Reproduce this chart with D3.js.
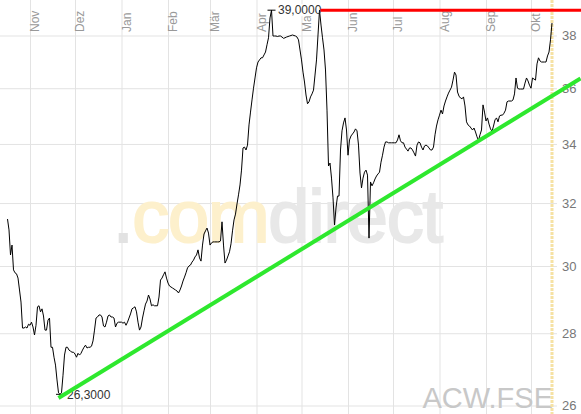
<!DOCTYPE html>
<html>

<head>
  <title>ACW.FSE</title>
  <script src="https://d3js.org/d3.v7.min.js"></script>
  <style type="text/css">
    body {
      margin: 0;
      background: #fff;
    }

    svg text {
      font-family: "Liberation Sans", Arial, Helvetica, sans-serif;
    }
  </style>
</head>

<body>
  <div id="chart"></div>
  <script>
    // daily closes, one per calendar day starting at firstDay
    var firstDay = "2016-10-17";
    var closes = [
      31.48, 31.13, 30.34, 30.65, 29.88, 29.79, 29.76, 29.63, 29.27, 28.91,
      28.15, 28.15, 28.18, 28.15, 28.26, 28.23, 28.32, 28.18, 27.95, 28.23,
      28.77, 28.80, 28.62, 28.71, 28.50, 28.09, 28.09, 28.38, 28.44, 27.60,
      27.60, 27.32, 27.10, 26.69, 26.34, 26.30, 26.34, 26.82, 27.38, 27.60,
      27.60, 27.52, 27.49, 27.46, 27.46, 27.41, 27.32, 27.43, 27.38, 27.43,
      27.52, 27.60, 27.66, 27.58, 27.60, 27.60, 27.63, 27.78, 28.09, 28.44,
      28.47, 28.53, 28.53, 28.47, 28.21, 28.18, 28.32, 28.50, 28.53, 28.47,
      28.47, 28.44, 28.18, 28.29, 28.32, 28.32, 28.32, 28.29, 28.32, 28.23,
      28.32, 28.44, 28.56, 28.71, 28.74, 28.77, 28.62, 28.32, 28.09, 28.18,
      28.44, 28.65, 28.85, 28.94, 29.12, 29.00, 28.80, 28.83, 28.80, 28.80,
      28.80, 29.06, 29.57, 29.63, 29.73, 29.82, 29.63, 29.48, 29.39, 29.36,
      29.33, 29.30, 29.27, 29.24, 29.18, 29.27, 29.39, 29.54, 29.66, 29.79,
      29.94, 30.00, 30.03, 30.12, 30.18, 30.28, 30.34, 30.50, 30.25, 30.15,
      30.65, 31.00, 31.10, 31.19, 31.03, 30.65, 30.72, 30.75, 30.75, 30.75,
      30.75, 30.75, 30.78, 31.39, 30.65, 30.09, 30.18, 30.31, 30.44, 30.69,
      31.10, 31.45, 31.64, 31.97, 32.27, 32.60, 33.10, 33.86, 33.89, 33.79,
      33.96, 34.67, 35.13, 35.57, 36.00, 36.38, 36.76, 36.98, 37.06, 37.14,
      37.14, 37.25, 37.36, 37.64, 37.91, 38.69, 39.00, 37.98, 37.98, 37.98,
      37.96, 37.98, 37.98, 37.94, 37.89, 37.91, 37.94, 37.96, 37.98, 38.00,
      38.02, 38.00, 37.98, 37.94, 37.83, 37.44, 37.06, 36.60, 36.23, 35.75,
      35.43, 35.50, 35.68, 35.79, 35.93, 36.49, 37.06, 38.02, 39.00, 38.41,
      37.91, 37.44, 36.68, 35.20, 33.24, 33.34, 32.83, 32.17, 31.29, 31.84,
      32.23, 32.23, 33.79, 34.46, 34.74, 34.92, 34.49, 33.61, 34.14, 34.28,
      34.35, 34.42, 34.53, 34.46, 33.96, 33.00, 32.50, 32.83, 33.03, 33.10,
      32.93, 30.87, 32.70, 32.57, 32.67, 32.80, 32.90, 32.97, 33.03, 33.37,
      33.61, 33.89, 34.07, 34.07, 34.04, 34.04, 34.04, 34.04, 34.04, 34.04,
      34.14, 34.32, 34.11, 34.04, 34.04, 33.89, 33.82, 33.75, 33.86, 33.86,
      33.79, 33.69, 33.58, 33.96, 34.07, 34.04, 33.89, 33.79, 33.93, 33.96,
      33.93, 33.86, 33.79, 33.79, 33.89, 34.32, 34.63, 34.85, 35.02, 35.20,
      35.06, 35.35, 35.53, 35.68, 35.82, 35.93, 36.04, 36.30, 36.60, 36.49,
      35.86, 35.71, 35.64, 35.61, 35.68, 35.35, 34.78, 34.67, 34.63, 34.56,
      34.49, 34.56, 34.42, 34.25, 34.12, 34.32, 34.49, 35.39, 35.13, 34.81,
      34.92, 34.70, 34.53, 34.44, 34.63, 34.85, 34.92, 34.78, 34.99, 35.02,
      35.02, 35.09, 35.20, 35.50, 35.53, 35.53, 35.53, 35.57, 35.79, 36.38,
      36.00, 35.97, 35.97, 35.97, 35.97, 36.19, 36.38, 36.27, 36.11, 36.00,
      36.38, 36.34, 36.30, 36.91, 37.14, 37.02, 36.98, 36.98, 36.98, 36.98,
      37.21, 37.36, 37.83, 38.49
    ];

    var xDomain = ["2016-10-12", "2017-10-18"];
    var monthTicks = ["2016-11-01", "2016-12-01", "2017-01-01", "2017-02-01", "2017-03-01", "2017-04-01",
      "2017-05-01", "2017-06-01", "2017-07-01", "2017-08-01", "2017-09-01", "2017-10-01"];
    var monthLabels = ["Nov", "Dez", "Jan", "Feb", "Mär", "Apr", "Mai", "Jun", "Jul", "Aug", "Sep", "Okt"];
    var yTicks = [26, 28, 30, 32, 34, 36, 38];

    // support line (green) and resistance (red)
    var trendDates = ["2016-11-20", "2017-11-03"];
    var trendValues = [26.2, 36.36];
    var symbol = "ACW.FSE";

    var width = 581;
    var height = 414;
    var plotRight = 557;

    var parseDate = d3.timeParse("%Y-%m-%d");
    var start = parseDate(firstDay);
    var data = closes.map(function(v, i) {
      return { date: d3.timeDay.offset(start, i), value: v };
    });

    var x = d3.scaleTime().domain(xDomain.map(parseDate)).range([0, 556.5]);
    var y = d3.scaleLog().domain([26, 38]).range([405.5, 35.5]);
    var fmt = function(v) { return d3.format(".4f")(v).replace(".", ","); };

    var svg = d3.select("#chart").append("svg")
      .attr("width", width)
      .attr("height", height);

    // vertical month grid + rotated labels
    var gx = svg.append("g")
      .call(d3.axisBottom(x)
        .tickValues(monthTicks.map(parseDate))
        .tickSize(height)
        .tickFormat(function(d, i) { return monthLabels[i]; }));
    gx.select(".domain").remove();
    gx.selectAll(".tick line").attr("stroke", "#e3e3e3");
    gx.selectAll(".tick text")
      .attr("transform", "rotate(-90)")
      .attr("x", -32)
      .attr("y", 8.5)
      .attr("dy", 0)
      .attr("text-anchor", "start")
      .attr("fill", "#999")
      .style("font-size", "12px");

    // horizontal grid + price labels on the right
    var gy = svg.append("g")
      .call(d3.axisRight(y)
        .tickValues(yTicks)
        .tickSize(plotRight)
        .tickPadding(5)
        .tickFormat(d3.format("d")));
    gy.select(".domain").remove();
    gy.selectAll(".tick line").attr("stroke", "#e3e3e3");
    gy.selectAll(".tick text")
      .attr("fill", "#777")
      .style("font-size", "13px");

    // watermark
    var wm = svg.append("text")
      .attr("x", 113)
      .attr("y", 242)
      .attr("textLength", 330)
      .attr("lengthAdjust", "spacing")
      .attr("stroke-width", 2)
      .style("font-size", "74px");
    wm.append("tspan").attr("fill", "#e2e2e2").attr("stroke", "#e2e2e2").text(".");
    wm.append("tspan").attr("fill", "#fdf0cc").attr("stroke", "#fdf0cc").text("com");
    wm.append("tspan").attr("fill", "#e8e8e8").attr("stroke", "#e8e8e8").text("direct");

    svg.append("text")
      .attr("x", 553)
      .attr("y", 408)
      .attr("text-anchor", "end")
      .attr("fill", "#c8c8c8")
      .style("font-size", "29px")
      .text(symbol);

    // last-day marker
    var last = data[data.length - 1];
    svg.append("line")
      .attr("x1", x(last.date)).attr("x2", x(last.date))
      .attr("y1", 0).attr("y2", height)
      .attr("stroke", "#f6e2a4")
      .attr("stroke-width", 3)
      .attr("stroke-dasharray", "3,1");

    // max / min annotations
    var iMax = d3.maxIndex(data, function(d) { return d.value; });
    var iMin = d3.minIndex(data, function(d) { return d.value; });
    var maxPt = data[iMax], minPt = data[iMin];
    var iMaxLast = iMax;
    data.forEach(function(d, i) { if (d.value === maxPt.value) iMaxLast = i; });

    svg.append("rect")
      .attr("x", x(maxPt.date) + 6)
      .attr("y", y(maxPt.value) - 6)
      .attr("width", 44)
      .attr("height", 12)
      .attr("fill", "#fff");

    var line = d3.line()
      .x(function(d) { return x(d.date); })
      .y(function(d) { return y(d.value); });

    svg.append("path")
      .datum(data)
      .attr("fill", "none")
      .attr("stroke", "#000")
      .attr("stroke-width", 1)
      .attr("d", line);

    [[maxPt, 6.5], [minPt, 7]].forEach(function(p) {
      var px = x(p[0].date), py = y(p[0].value);
      svg.append("line")
        .attr("x1", px - 4).attr("x2", px + 4)
        .attr("y1", py).attr("y2", py)
        .attr("stroke", "#000");
      svg.append("text")
        .attr("x", px + p[1])
        .attr("y", py)
        .attr("dy", "0.35em")
        .attr("fill", "#333")
        .style("font-size", "12px")
        .text(fmt(p[0].value));
    });

    // support line
    var trend = trendDates.map(function(d, i) {
      return { date: parseDate(d), value: trendValues[i] };
    });
    svg.append("path")
      .datum(trend)
      .attr("fill", "none")
      .attr("stroke", "#2ee82e")
      .attr("stroke-width", 4)
      .attr("d", line);

    // resistance at the high
    svg.append("line")
      .attr("x1", x(data[iMaxLast].date) + 1)
      .attr("x2", width)
      .attr("y1", y(maxPt.value))
      .attr("y2", y(maxPt.value))
      .attr("stroke", "#ff0000")
      .attr("stroke-width", 3);
  </script>
</body>

</html>
